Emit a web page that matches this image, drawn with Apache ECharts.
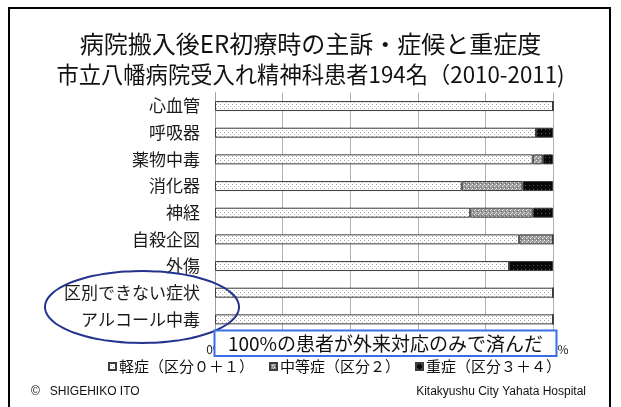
<!DOCTYPE html>
<html>
<head>
<meta charset="utf-8">
<script src="https://cdn.jsdelivr.net/npm/echarts@6/dist/echarts.min.js"></script>
<style>
  html, body { margin: 0; padding: 0; background: #fff; }
  #chart { width: 621px; height: 407px; }
</style>
</head>
<body>
<div id="chart"></div>
<script>
// 主訴・症候（上から順）
const categories = ['心血管', '呼吸器', '薬物中毒', '消化器', '神経', '自殺企図', '外傷', '区別できない症状', 'アルコール中毒']
// 重症度ごとの割合（%）
const mild = [100, 95, 94, 73, 75.5, 90, 87, 100, 100]
const moderate = [0, 0, 3, 18, 18.5, 10, 0, 0, 0]
const severe = [0, 5, 3, 9, 6, 0, 13, 0, 0]
const seriesNames = ['軽症（区分０＋１）', '中等症（区分２）', '重症（区分３＋４）']
const xTicks = [0, 20, 40, 60, 80, 100]

const JP = '"Noto Sans CJK JP", "Noto Sans", sans-serif'

// ハッチング用の小さなパターン
const makePattern = (bg, dots) => {
  const c = document.createElement('canvas')
  c.width = 4
  c.height = 4
  const ctx = c.getContext('2d')
  ctx.fillStyle = bg
  ctx.fillRect(0, 0, 4, 4)
  dots.forEach(([x, y, col]) => {
    ctx.fillStyle = col
    ctx.fillRect(x, y, 1, 1)
  })
  return { image: c, repeat: 'repeat' }
}

const mildPattern = makePattern('#ffffff', [[0, 0, '#9a9a9a'], [2, 2, '#b5b5b5']])
const modPattern = makePattern('#9a9a9a', [[0, 0, '#ececec'], [2, 2, '#ececec'], [1, 3, '#707070'], [3, 1, '#cfcfcf']])
const sevPattern = makePattern('#080808', [[1, 1, '#5a5a5a']])

// 楕円（注釈）
const ellipsePts = []
for (let i = 0; i < 72; i++) {
  const t = i / 72 * Math.PI * 2
  ellipsePts.push([142 + 97 * Math.cos(t), 307 + 36 * Math.sin(t)])
}

const chart = echarts.init(document.getElementById('chart'))

const barSeries = (name, data, pattern) => ({
  name,
  type: 'bar',
  stack: 'total',
  data,
  barWidth: 10,
  itemStyle: { color: pattern, borderColor: '#3c3c3c', borderWidth: 1 },
  emphasis: { disabled: true }
})

chart.setOption({
  animation: false,
  title: [
    {
      text: '病院搬入後ER初療時の主訴・症候と重症度',
      left: 'center', top: 31.5, padding: 0,
      textStyle: { fontFamily: JP, fontSize: 24, fontWeight: 'normal', color: '#111' }
    },
    {
      text: '市立八幡病院受入れ精神科患者194名（2010-2011)',
      left: 'center', top: 63.5, padding: 0,
      textStyle: { fontFamily: JP, fontSize: 22.3, fontWeight: 'normal', color: '#111' }
    }
  ],
  legend: {
    data: seriesNames,
    left: 108, top: 359, padding: 0,
    itemWidth: 7, itemHeight: 7, itemGap: 15,
    icon: 'rect',
    textStyle: { fontFamily: JP, fontSize: 15, color: '#111', padding: [0, 0, 0, -2] }
  },
  grid: { left: 215, right: 68, top: 92.7, bottom: 74.3, containLabel: false },
  xAxis: {
    type: 'value',
    min: xTicks[0], max: xTicks[xTicks.length - 1], interval: 20,
    axisLine: { show: false },
    axisTick: { show: false },
    axisLabel: { formatter: '{value}%', fontFamily: JP, fontSize: 12, color: '#222', margin: 11 },
    splitLine: { lineStyle: { color: '#b0b0b0', width: 1 } }
  },
  yAxis: {
    type: 'category',
    data: categories,
    inverse: true,
    axisLine: { lineStyle: { color: '#a0a0a0' } },
    axisTick: { length: 4, lineStyle: { color: '#a0a0a0' } },
    axisLabel: { fontFamily: JP, fontSize: 17, color: '#1a1a1a', margin: 15 }
  },
  series: [
    barSeries(seriesNames[0], mild, mildPattern),
    barSeries(seriesNames[1], moderate, modPattern),
    barSeries(seriesNames[2], severe, sevPattern)
  ],
  graphic: [
    {
      type: 'rect', silent: true, z: 100,
      shape: { x: 9, y: 8, width: 601, height: 430 },
      style: { fill: 'none', stroke: '#000', lineWidth: 2 }
    },
    {
      type: 'polygon', silent: true, z: 100,
      shape: { points: ellipsePts, smooth: 0.3 },
      style: { fill: 'none', stroke: '#24348e', lineWidth: 2 }
    },
    {
      type: 'rect', silent: true, z: 100,
      shape: { x: 214.5, y: 330.5, width: 342, height: 25.5 },
      style: { fill: '#fff', stroke: '#3b6ee6', lineWidth: 2 }
    },
    {
      type: 'text', silent: true, z: 101,
      x: 385.5, y: 343.5,
      style: {
        text: '100%の患者が外来対応のみで済んだ',
        fontFamily: JP, fontSize: 19, fill: '#111',
        align: 'center', verticalAlign: 'middle'
      }
    },
    {
      type: 'text', silent: true, z: 100,
      x: 31, y: 392,
      style: {
        text: '©   SHIGEHIKO ITO',
        fontFamily: '"Liberation Sans", Arial, sans-serif', fontSize: 12, fill: '#111',
        align: 'left', verticalAlign: 'middle'
      }
    },
    {
      type: 'text', silent: true, z: 100,
      x: 586, y: 392,
      style: {
        text: 'Kitakyushu City Yahata Hospital',
        fontFamily: '"Liberation Sans", Arial, sans-serif', fontSize: 12, fill: '#111',
        align: 'right', verticalAlign: 'middle'
      }
    }
  ]
})
</script>
</body>
</html>
